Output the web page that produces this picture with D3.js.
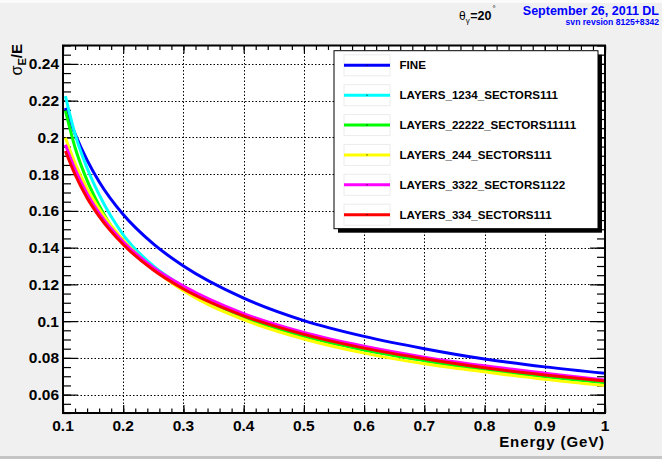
<!DOCTYPE html>
<html>
<head>
<meta charset="utf-8">
<script src="https://cdn.jsdelivr.net/npm/d3@7"></script>
<style>
  body { margin: 0; background: #f0f0f0; }
  svg { display: block; font-family: "Liberation Sans", Arial, sans-serif; }
</style>
</head>
<body>
<div id="contentpane"></div>
<script>
//////////
// Data //
//////////

var energies = [0.104, 0.12, 0.14, 0.16, 0.2, 0.25, 0.3, 0.4, 0.5, 0.6, 0.7, 0.8, 0.9, 1.0];

var fine       = [0.216, 0.2019, 0.1876, 0.1759, 0.158, 0.1420, 0.1300, 0.1125, 0.1003, 0.0917, 0.0850, 0.0794, 0.0751, 0.0716];
var layers1234 = [0.2225, 0.2018, 0.1833, 0.1688, 0.147, 0.1300, 0.1187, 0.1025, 0.0922, 0.0849, 0.0786, 0.0743, 0.0703, 0.0668];
var layers2222 = [0.2145, 0.1945, 0.1766, 0.1629, 0.1425, 0.1285, 0.1180, 0.1022, 0.0917, 0.0843, 0.0785, 0.0734, 0.0697, 0.0665];
var layers244  = [0.1998, 0.1860, 0.1722, 0.1611, 0.1441, 0.1285, 0.1165, 0.1008, 0.0903, 0.0826, 0.0768, 0.0724, 0.0683, 0.0649];
var layers3322 = [0.196, 0.1827, 0.1694, 0.1588, 0.1432, 0.1292, 0.1191, 0.1041, 0.0938, 0.0863, 0.0804, 0.0757, 0.0717, 0.0680];
var layers334  = [0.1926, 0.1798, 0.1670, 0.1570, 0.1417, 0.1278, 0.1175, 0.1029, 0.0928, 0.0853, 0.0795, 0.0746, 0.0707, 0.0674];

var seriesNames  = ["FINE", "LAYERS_1234_SECTORS111", "LAYERS_22222_SECTORS11111",
                    "LAYERS_244_SECTORS111", "LAYERS_3322_SECTORS1122", "LAYERS_334_SECTORS111"];
var seriesValues = [fine, layers1234, layers2222, layers244, layers3322, layers334];
var seriesColors = ["#0000ff", "#00ffff", "#00ff00", "#ffff00", "#ff00ff", "#ff0000"];

var xTicks = [0.1, 0.2, 0.3, 0.4, 0.5, 0.6, 0.7, 0.8, 0.9, 1];
var xTickLabels = ["0.1", "0.2", "0.3", "0.4", "0.5", "0.6", "0.7", "0.8", "0.9", "1"];
var yTicks = [0.06, 0.08, 0.1, 0.12, 0.14, 0.16, 0.18, 0.2, 0.22, 0.24];
var yTickLabels = ["0.06", "0.08", "0.1", "0.12", "0.14", "0.16", "0.18", "0.2", "0.22", "0.24"];

///////////////////
// Initial setup //
///////////////////

var width = 662;
var height = 459;
var svg = d3.select("#contentpane").append("svg")
	.attr("width", width).attr("height", height);

// Canvas edges
svg.append("rect").attr("x", 0).attr("y", 0).attr("width", width).attr("height", 3).attr("fill", "#fbfbfb");
svg.append("rect").attr("x", 0).attr("y", 456).attr("width", width).attr("height", 3).attr("fill", "#c4c4c4");

// Frame geometry
var fx0 = 63, fx1 = 605, fy0 = 45.5, fy1 = 413;
var x = d3.scaleLinear().domain([0.1, 1]).range([fx0, fx1]);
var y = d3.scaleLinear().domain([0.05, 0.25]).range([fy1, fy0]);

// Plot background
svg.append("rect").attr("x", fx0).attr("y", fy0)
	.attr("width", fx1 - fx0).attr("height", fy1 - fy0).attr("fill", "white");

// Grid
var grid = svg.append("g").attr("stroke", "black").attr("stroke-width", 1).attr("stroke-dasharray", "1.5,2");
grid.selectAll("line.gx").data(xTicks.slice(1, -1)).enter().append("line")
	.attr("x1", function(d) { return Math.round(x(d)) + 0.5; })
	.attr("x2", function(d) { return Math.round(x(d)) + 0.5; })
	.attr("y1", fy0).attr("y2", fy1);
grid.selectAll("line.gy").data(yTicks).enter().append("line")
	.attr("y1", function(d) { return Math.round(y(d)) + 0.5; })
	.attr("y2", function(d) { return Math.round(y(d)) + 0.5; })
	.attr("x1", fx0).attr("x2", fx1);

// Axes ticks (all four sides, pointing inward)
var xMinor = d3.range(0.1, 1.0001, 0.02);
var yMinor = d3.range(0.05, 0.2501, 0.005);

function tickAxis(axis, tx, ty){
	var g = svg.append("g").attr("transform", "translate(" + tx + "," + ty + ")").call(axis);
	g.selectAll("text").remove();
	g.select(".domain").remove();
	g.selectAll("line").attr("stroke", "black").attr("stroke-width", 1.2);
}
tickAxis(d3.axisBottom(x).tickValues(xMinor).tickSize(-4.5), 0, fy1);
tickAxis(d3.axisBottom(x).tickValues(xTicks).tickSize(-8), 0, fy1);
tickAxis(d3.axisTop(x).tickValues(xMinor).tickSize(-4.5), 0, fy0);
tickAxis(d3.axisTop(x).tickValues(xTicks).tickSize(-8), 0, fy0);
tickAxis(d3.axisLeft(y).tickValues(yMinor).tickSize(-8), fx0, 0);
tickAxis(d3.axisLeft(y).tickValues(yTicks).tickSize(-15), fx0, 0);
tickAxis(d3.axisRight(y).tickValues(yMinor).tickSize(-8), fx1, 0);
tickAxis(d3.axisRight(y).tickValues(yTicks).tickSize(-15), fx1, 0);

// Curves
var clip = svg.append("clipPath").attr("id", "frameclip").append("rect")
	.attr("x", fx0).attr("y", fy0).attr("width", fx1 - fx0).attr("height", fy1 - fy0);
var line = d3.line()
	.x(function(d, i) { return x(energies[i]); })
	.y(function(d) { return y(d); })
	.curve(d3.curveMonotoneX);
svg.append("g").attr("clip-path", "url(#frameclip)")
	.selectAll("path").data(seriesValues).enter().append("path")
	.attr("d", line)
	.attr("fill", "none")
	.attr("stroke", function(d, i) { return seriesColors[i]; })
	.attr("stroke-width", 3);

// Frame
svg.append("rect").attr("x", fx0).attr("y", fy0)
	.attr("width", fx1 - fx0).attr("height", fy1 - fy0)
	.attr("fill", "none").attr("stroke", "black").attr("stroke-width", 2);

// Tick labels
svg.selectAll("text.xl").data(xTicks).enter().append("text")
	.text(function(d, i) { return xTickLabels[i]; })
	.attr("x", function(d) { return x(d); })
	.attr("y", 431)
	.attr("text-anchor", "middle")
	.attr("font-weight", "bold").attr("font-size", "15.5px");
svg.selectAll("text.yl").data(yTicks).enter().append("text")
	.text(function(d, i) { return yTickLabels[i]; })
	.attr("x", 59)
	.attr("y", function(d) { return y(d) + 5.5; })
	.attr("text-anchor", "end")
	.attr("font-weight", "bold").attr("font-size", "15.5px");

// Axis titles
svg.append("text").text("Energy (GeV)")
	.attr("x", 605).attr("y", 447)
	.attr("text-anchor", "end")
	.attr("font-weight", "bold").attr("font-size", "15px")
	.attr("letter-spacing", "0.9px");
var yt = svg.append("text")
	.attr("transform", "translate(22,44) rotate(-90)")
	.attr("text-anchor", "end")
	.attr("font-weight", "bold").attr("font-size", "15px");
yt.append("tspan").text("σ").attr("font-weight", "normal").attr("font-size", "16px");
yt.append("tspan").text("E").attr("font-size", "11px").attr("dy", 4);
yt.append("tspan").text("/E").attr("dy", -4);

// Legend
var lx = 334, ly = 50.7, lw = 264, lh = 178;
svg.append("rect").attr("x", lx + 4).attr("y", ly + 4).attr("width", lw).attr("height", lh).attr("fill", "black");
svg.append("rect").attr("x", lx).attr("y", ly).attr("width", lw).attr("height", lh)
	.attr("fill", "white").attr("stroke", "black").attr("stroke-width", 1);
var rowY = d3.scaleLinear().domain([0, 5]).range([65.3, 214.7]);
var rows = svg.selectAll("g.leg").data(seriesNames).enter().append("g")
	.attr("transform", function(d, i) { return "translate(0," + rowY(i) + ")"; });
rows.append("rect").attr("x", 344).attr("y", -10.5).attr("width", 46).attr("height", 21)
	.attr("fill", "none").attr("stroke", "#ececec").attr("stroke-width", 1);
rows.append("line").attr("x1", 344).attr("x2", 390).attr("y1", 0).attr("y2", 0)
	.attr("stroke", function(d, i) { return seriesColors[i]; })
	.attr("stroke-width", 3);
rows.append("rect").attr("x", 366.5).attr("y", -0.5).attr("width", 1).attr("height", 1).attr("fill", "black");
rows.append("text").text(function(d) { return d; })
	.attr("x", 399.5).attr("y", 4)
	.attr("font-weight", "bold").attr("font-size", "11.6px");

// Header labels
var th = svg.append("text").attr("x", 459).attr("y", 20).attr("font-size", "12px");
th.append("tspan").text("θ");
th.append("tspan").text("γ").attr("font-size", "8px").attr("dy", 3);
th.append("tspan").text("=20").attr("font-weight", "bold").attr("font-size", "12.5px").attr("dy", -3).attr("dx", 0.5);
th.append("tspan").text("°").attr("font-size", "8px").attr("dy", -9).attr("dx", 1);
svg.append("text").text("September 26, 2011 DL")
	.attr("x", 659).attr("y", 14.5).attr("text-anchor", "end")
	.attr("fill", "#0000ff").attr("font-weight", "bold").attr("font-size", "12.5px");
svg.append("text").text("svn revsion 8125+8342")
	.attr("x", 659).attr("y", 24.5).attr("text-anchor", "end")
	.attr("fill", "#0000ff").attr("font-weight", "bold").attr("font-size", "8.6px");
</script>
</body>
</html>
